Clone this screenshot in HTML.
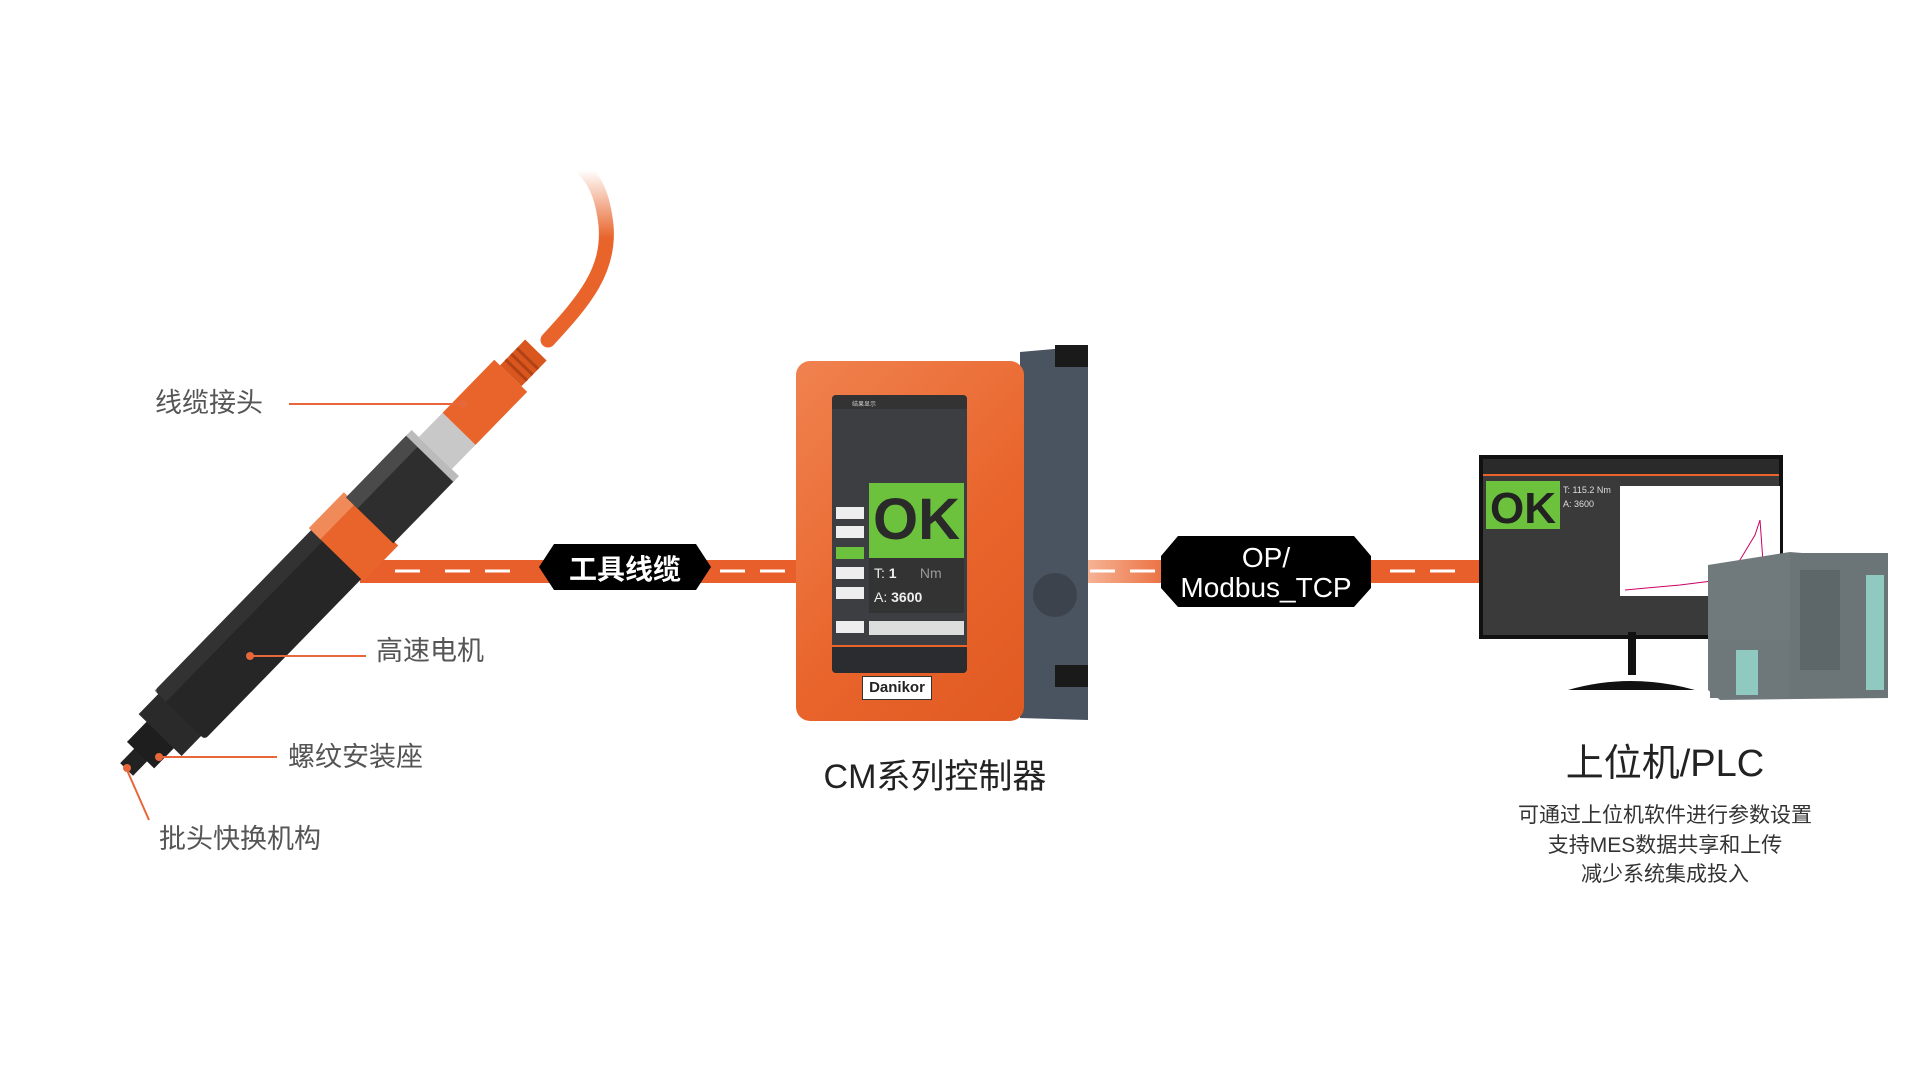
<!DOCTYPE html>
<html><head><meta charset="utf-8"><style>
*{margin:0;padding:0;box-sizing:border-box}
body{width:1920px;height:1080px;background:#fff;position:relative;overflow:hidden;font-family:"Liberation Sans","Noto Sans CJK SC",sans-serif}
.a{position:absolute}
.lbl{position:absolute;color:#555;font-size:27px;white-space:nowrap;line-height:1}
.ln{position:absolute;height:2px;background:#e8673a}
</style></head><body>
<div class="a" style="left:360px;top:560px;width:440px;height:23px;background:#e95f2c"></div>
<div class="a" style="left:1085px;top:560px;width:400px;height:23px;background:linear-gradient(90deg,#f6b597,#e95f2c 25%)"></div>
<svg class="a" style="left:0;top:0" width="1920" height="1080">
<g stroke="#fff" stroke-width="3">
<line x1="395" y1="571" x2="420" y2="571"/><line x1="445" y1="571" x2="470" y2="571"/><line x1="485" y1="571" x2="510" y2="571"/>
<line x1="720" y1="571" x2="745" y2="571"/><line x1="760" y1="571" x2="785" y2="571"/>
<line x1="1090" y1="571" x2="1115" y2="571"/><line x1="1130" y1="571" x2="1155" y2="571"/>
<line x1="1390" y1="571" x2="1415" y2="571"/><line x1="1430" y1="571" x2="1455" y2="571"/>
</g>
<polygon points="554,544 696,544 711,567 696,590 554,590 539,567" fill="#000"/>
<text x="625" y="579" font-size="28" fill="#fff" text-anchor="middle" font-family="Liberation Sans,Noto Sans CJK SC,sans-serif" font-weight="bold">工具线缆</text>
<polygon points="1178,536 1354,536 1371,556 1371,588 1354,607 1178,607 1161,588 1161,556" fill="#000"/>
<text x="1266" y="567" font-size="28" fill="#fff" text-anchor="middle" font-family="Liberation Sans,sans-serif">OP/</text>
<text x="1266" y="597" font-size="28" fill="#fff" text-anchor="middle" font-family="Liberation Sans,sans-serif">Modbus_TCP</text>
<defs><linearGradient id="cg" x1="0" y1="1" x2="0" y2="0"><stop offset="0.6" stop-color="#e8642b"/><stop offset="1" stop-color="#e8642b" stop-opacity="0"/></linearGradient></defs>
<path d="M548,340 C585,300 610,270 606,225 C603,200 598,185 585,170" stroke="url(#cg)" stroke-width="15" fill="none" stroke-linecap="round"/>
<g transform="translate(128,768) rotate(-45.7)">
<rect x="-2" y="-9" width="22" height="18" fill="#222"/>
<rect x="18" y="-19" width="30" height="38" fill="#1e1e1e"/>
<rect x="46" y="-30" width="30" height="60" fill="#2a2a2a"/>
<rect x="74" y="-35" width="228" height="70" rx="4" fill="#262626"/>
<rect x="74" y="-35" width="228" height="16" fill="#3a3a3a" opacity=".6"/>
<rect x="298" y="-38" width="50" height="76" fill="#e8642b"/>
<rect x="298" y="-38" width="50" height="16" fill="#f08a58"/>
<rect x="346" y="-33" width="88" height="66" fill="#2e2e2e"/>
<rect x="346" y="-33" width="88" height="16" fill="#4a4a4a"/>
<rect x="432" y="-33" width="8" height="66" fill="#bbb"/>
<rect x="440" y="-23" width="34" height="46" fill="#c8c8c8"/>
<rect x="474" y="-23" width="74" height="46" fill="#e8642b"/>
<rect x="548" y="-15" width="36" height="30" fill="#d9571f"/>
<g stroke="#b24216" stroke-width="3"><line x1="556" y1="-15" x2="556" y2="15"/><line x1="564" y1="-15" x2="564" y2="15"/><line x1="572" y1="-15" x2="572" y2="15"/></g>
</g>
<g fill="#e8673a"><circle cx="463" cy="404" r="4"/><circle cx="250" cy="656" r="4"/><circle cx="159" cy="757" r="4"/><circle cx="127" cy="768" r="4"/></g>
<line x1="127" y1="770" x2="149" y2="820" stroke="#e8673a" stroke-width="2"/>
<polygon points="1020,352 1088,346 1088,720 1020,718" fill="#4a5360"/>
<rect x="1055" y="345" width="33" height="22" fill="#1a1a1a"/>
<rect x="1055" y="665" width="33" height="22" fill="#1a1a1a"/>
<circle cx="1055" cy="595" r="22" fill="#3c434c"/>
<rect x="1479" y="455" width="304" height="184" fill="#111"/>
<rect x="1483" y="459" width="296" height="176" fill="#3a3a3a"/>
<rect x="1483" y="459" width="296" height="15" fill="#2a2a2a"/>
<rect x="1483" y="474" width="296" height="2" fill="#e8642b"/>
<rect x="1486" y="481" width="74" height="48" fill="#6cc23d"/>
<text x="1523" y="523" font-size="44" font-weight="bold" fill="#222" text-anchor="middle" font-family="Liberation Sans,sans-serif">OK</text>
<text x="1563" y="493" font-size="9" fill="#ddd">T: 115.2  Nm</text>
<text x="1563" y="507" font-size="9" fill="#ddd">A: 3600</text>
<rect x="1620" y="486" width="160" height="110" fill="#fff"/>
<path d="M1625,590 L1680,585 L1720,580 L1740,560 L1755,535 L1760,520 L1765,590" stroke="#c06" stroke-width="1" fill="none"/>
<polygon points="1628,632 1636,632 1636,675 1628,675" fill="#111"/>
<path d="M1568,690 Q1630,672 1695,690 Z" fill="#111"/>
<polygon points="1708,565 1790,552 1888,560 1888,698 1720,700 1708,690" fill="#707a7c"/>
<rect x="1790" y="553" width="98" height="145" fill="#6b7476"/>
<rect x="1866" y="575" width="18" height="115" fill="#8fc9c0"/>
<rect x="1800" y="570" width="40" height="100" fill="#5d6668"/>
<rect x="1710" y="640" width="80" height="58" fill="#6e7779"/>
<rect x="1736" y="650" width="22" height="45" fill="#8fc9c0"/>
</svg>
<div class="a" style="left:796px;top:361px;width:228px;height:360px;border-radius:14px;background:linear-gradient(135deg,#f0824f,#e8642b 60%,#e05a22)"></div>
<div class="a" style="left:832px;top:395px;width:135px;height:278px;background:#3c3e41;border-radius:4px;overflow:hidden">
 <div class="a" style="left:0;top:0;width:135px;height:14px;background:#333;font-size:6px;color:#ccc;padding:4px 20px">结果显示</div>
 <div class="a" style="left:37px;top:88px;width:95px;height:75px;background:#6cc23d"></div>
 <div class="a" style="left:37px;top:92px;width:95px;text-align:center;font-size:58px;font-weight:bold;color:#2a2a2a;line-height:66px">OK</div>
 <div class="a" style="left:37px;top:163px;width:95px;height:55px;background:#333"></div>
 <div class="a" style="left:42px;top:170px;font-size:14px;color:#eee">T: <b>1</b> &nbsp;&nbsp;&nbsp;&nbsp;&nbsp;<span style="color:#999">Nm</span></div>
 <div class="a" style="left:42px;top:194px;font-size:14px;color:#eee">A: <b>3600</b></div>
 <div class="a" style="left:4px;top:112px;width:28px;height:12px;background:#eee"></div>
 <div class="a" style="left:4px;top:131px;width:28px;height:12px;background:#eee"></div>
 <div class="a" style="left:4px;top:152px;width:28px;height:12px;background:#6cc23d"></div>
 <div class="a" style="left:4px;top:172px;width:28px;height:12px;background:#eee"></div>
 <div class="a" style="left:4px;top:192px;width:28px;height:12px;background:#eee"></div>
 <div class="a" style="left:4px;top:226px;width:28px;height:12px;background:#eee"></div>
 <div class="a" style="left:37px;top:226px;width:95px;height:14px;background:#ddd"></div>
 <div class="a" style="left:0;top:250px;width:135px;height:2px;background:#e8642b"></div>
 <div class="a" style="left:0;top:252px;width:135px;height:26px;background:#2a2c30"></div>
</div>
<div class="a" style="left:862px;top:676px;width:70px;height:24px;background:#fff;border:1px solid #333;font-size:15px;font-weight:bold;color:#222;text-align:center;line-height:22px">Danikor</div>
<div class="lbl" style="left:155px;top:390px">线缆接头</div>
<div class="ln" style="left:289px;top:403px;width:172px"></div>
<div class="lbl" style="left:376px;top:638px">高速电机</div>
<div class="ln" style="left:252px;top:655px;width:114px"></div>
<div class="lbl" style="left:288px;top:744px">螺纹安装座</div>
<div class="ln" style="left:161px;top:756px;width:116px"></div>
<div class="lbl" style="left:159px;top:826px">批头快换机构</div>
<div class="a" style="left:785px;top:760px;width:300px;text-align:center;font-size:34px;color:#222;line-height:1">CM系列控制器</div>
<div class="a" style="left:1465px;top:745px;width:400px;text-align:center;font-size:38px;color:#222;line-height:1">上位机/PLC</div>
<div class="a" style="left:1465px;top:801px;width:400px;text-align:center;font-size:21px;color:#333;line-height:29.5px">可通过上位机软件进行参数设置<br>支持MES数据共享和上传<br>减少系统集成投入</div>
</body></html>
